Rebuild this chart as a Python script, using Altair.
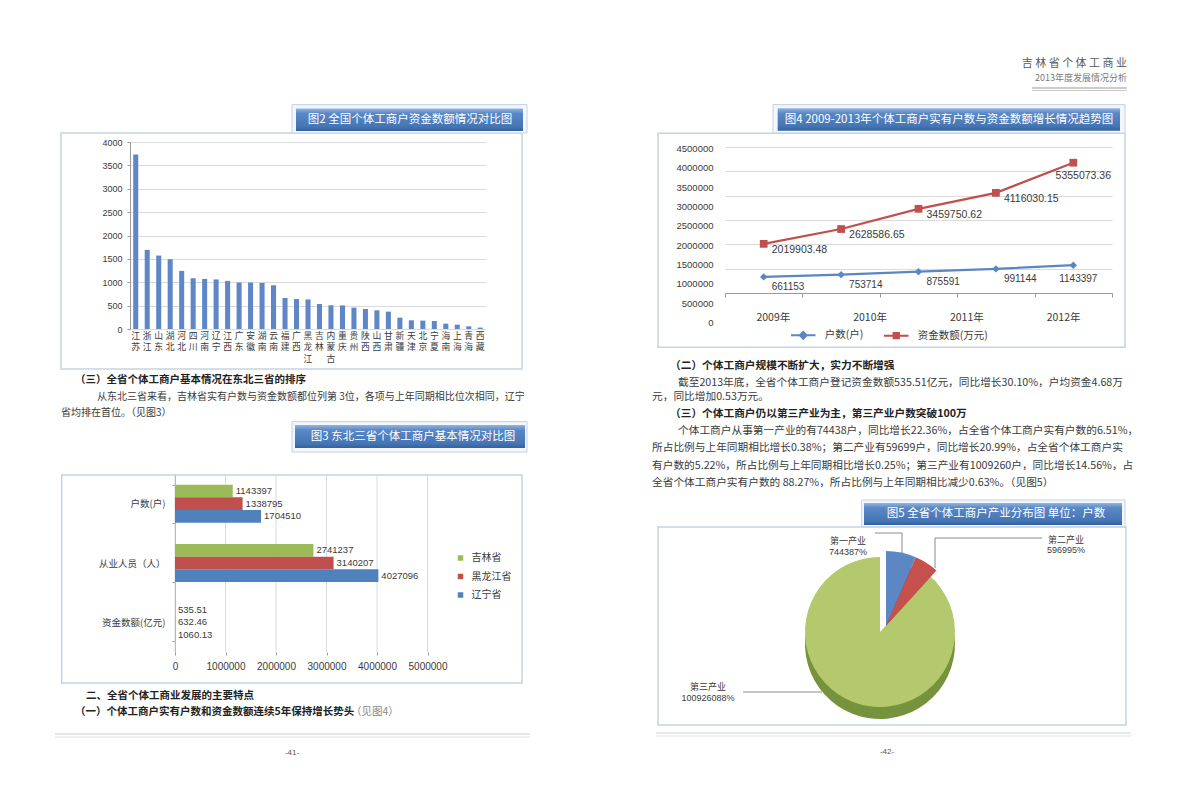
import altair as alt
import pandas as pd

CJK = "Noto Sans CJK SC"
NUM = "Liberation Sans, Noto Sans CJK SC"

# ---------------- data ----------------
provinces = ["江苏", "浙江", "山东", "湖北", "河北", "四川", "河南", "辽宁", "江西", "广东",
             "安徽", "湖南", "云南", "福建", "广西", "黑龙江", "吉林", "内蒙古", "重庆", "贵州",
             "陕西", "山西", "甘肃", "新疆", "天津", "北京", "宁夏", "海南", "上海", "青海", "西藏"]
capital_yi = [3730, 1693, 1571, 1493, 1243, 1086, 1071, 1060.13, 1029, 995,
              993, 986, 936, 664, 640, 632.46, 535.51, 507, 505, 457,
              429, 400, 371, 243, 186, 179, 171, 114, 93, 57, 29]
fig2_ticks = [0, 500, 1000, 1500, 2000, 2500, 3000, 3500, 4000]

ne_categories = ["户数(户)", "从业人员（人）", "资金数额(亿元)"]
ne_provinces = ["吉林省", "黑龙江省", "辽宁省"]
ne_households = [1143397, 1338795, 1704510]
ne_employees = [2741237, 3140207, 4027096]
ne_capital = [535.51, 632.46, 1060.13]
fig3_ticks = [0, 1000000, 2000000, 3000000, 4000000, 5000000]

years = ["2009", "2010", "2011", "2012", "2013"]
households = [661153, 753714, 875591, 991144, 1143397]
capital_wan = [2019903.48, 2628586.65, 3459750.62, 4116030.15, 5355073.36]
series_names = ["户数(户)", "资金数额(万元)"]
axis_year_labels = ["2009年", "2010年", "2011年", "2012年"]
axis_value_labels = [0, 500000, 1000000, 1500000, 2000000, 2500000, 3000000, 3500000, 4000000, 4500000]
fig4_grid = [0, 1000000, 2000000, 3000000, 4000000, 5000000, 6000000]

industries = ["第一产业", "第二产业", "第三产业"]
industry_counts = [74438, 59699, 1009260]
industry_pct = [7, 5, 88]

left_heading3 = "（三）全省个体工商户基本情况在东北三省的排序"
left_para = ["从东北三省来看，吉林省实有户数与资金数额都位列第 3位，各项与上年同期相比位次相同，辽宁",
             "省均排在首位。（见图3）"]
left_heading_b = "二、全省个体工商业发展的主要特点"
left_heading_1 = "（一）个体工商户实有户数和资金数额连续5年保持增长势头"
left_heading_1_ref = "（见图4）"
right_heading2 = "（二）个体工商户规模不断扩大，实力不断增强"
right_para2 = ["截至2013年底，全省个体工商户登记资金数额535.51亿元，同比增长30.10%，户均资金4.68万",
               "元，同比增加0.53万元。"]
right_heading3 = "（三）个体工商户仍以第三产业为主，第三产业户数突破100万"
right_para3 = ["个体工商户从事第一产业的有74438户，同比增长22.36%，占全省个体工商户实有户数的6.51%，",
               "所占比例与上年同期相比增长0.38%；第二产业有59699户，同比增长20.99%，占全省个体工商户实",
               "有户数的5.22%，所占比例与上年同期相比增长0.25%；第三产业有1009260户，同比增长14.56%，占",
               "全省个体工商户实有户数的 88.27%，所占比例与上年同期相比减少0.63%。（见图5）"]
header_title = "吉 林 省 个 体 工 商 业"
header_sub = "2013年度发展情况分析"
titles = ["图2  全国个体工商户资金数额情况对比图",
          "图3  东北三省个体工商户基本情况对比图",
          "图4  2009-2013年个体工商户实有户数与资金数额增长情况趋势图",
          "图5  全省个体工商户产业分布图 单位：户数"]
page_numbers = ["-41-", "-42-"]

# ---------------- styles ----------------
BLUE = "#4F81BD"
LBLUE = "#5b86c3"
RED = "#C0504D"
GREEN = "#9BBB59"
BAR2 = "#5f87c7"
TXT = "#3a3a3a"
BOXC = "#c5d3e2"
GRIDC = "#dadada"
AXC = "#9a9a9a"

ONE = pd.DataFrame({"_": [0]})


def txt(s, x, y, size=10.5, weight="normal", color=TXT, align="left", font=CJK, baseline="middle"):
    return alt.Chart(ONE).mark_text(text=s, align=align, baseline=baseline, fontSize=size,
                                    fontWeight=weight, color=color, font=font).encode(
        x=alt.value(x), y=alt.value(y))


def rule(x1, y1, x2, y2, color="#999999", width=1.0):
    return alt.Chart(ONE).mark_rule(color=color, strokeWidth=width).encode(
        x=alt.value(x1), y=alt.value(y1), x2=alt.value(x2), y2=alt.value(y2))


def rect(x1, y1, x2, y2, **kw):
    return alt.Chart(ONE).mark_rect(**kw).encode(
        x=alt.value(x1), x2=alt.value(x2), y=alt.value(y1), y2=alt.value(y2))


GRAD = alt.LinearGradient(gradient="linear", x1=0, y1=0, x2=0, y2=1, stops=[
    alt.GradientStop(color="#92b4df", offset=0),
    alt.GradientStop(color="#5a88c6", offset=0.22),
    alt.GradientStop(color="#4575b3", offset=0.8),
    alt.GradientStop(color="#33629f", offset=1)])


def banner(ox1, oy1, ox2, oy2, ix1, iy1, ix2, iy2, text, tx, ty):
    return [rect(ox1, oy1, ox2, oy2, fill="#f3f7fb", stroke="#c2d2e5", strokeWidth=1),
            rect(ix1, iy1, ix2, iy2, fill=GRAD),
            txt(text, tx, ty, size=11.5, color="white", align="center")]


def panel(x1, y1, x2, y2):
    return rect(x1, y1, x2, y2, fillOpacity=0, stroke=BOXC, strokeWidth=1.5)


def bg(w, h):
    return rect(0, 0, w, h, fill="white")


def leaf(w, h, *layers):
    return alt.layer(*layers).properties(width=w, height=h)


def row(*charts):
    return alt.hconcat(*charts, spacing=0, bounds="flush")


# ---------------- Fig 2 (view origin: X130, Y104) ----------------
df2 = pd.DataFrame({"province": provinces, "value": capital_yi})
df2["c1"] = [p[0] for p in provinces]
df2["c2"] = [p[1] if len(p) > 1 else "" for p in provinces]
df2["c3"] = [p[2] if len(p) > 2 else "" for p in provinces]
x2 = alt.X("province:N", sort=provinces, title=None,
           scale=alt.Scale(paddingInner=0.56, paddingOuter=0.28),
           axis=alt.Axis(labels=False, ticks=False, domain=False))
bars2 = alt.Chart(df2).mark_bar(color=BAR2).encode(
    x=x2,
    y=alt.Y("value:Q", title=None, scale=alt.Scale(domain=[0, 4000], range=[225, 38], nice=False),
            axis=alt.Axis(values=fig2_ticks, format="d", labelFontSize=9, labelColor=TXT,
                          labelFont=NUM, tickSize=3, tickColor=AXC, domainColor=AXC,
                          gridColor=GRIDC, labelPadding=5)))


def char_row(col, y):
    return alt.Chart(df2).mark_text(fontSize=8.8, font=CJK, color=TXT, baseline="middle").encode(
        x=x2, y=alt.value(y), text=f"{col}:N")


fig2 = leaf(356, 225,
            panel(-69, 29, 392, 265),
            *banner(162, 0.6, 397, 29, 166, 4.5, 393, 27, titles[0], 280, 16),
            bars2, char_row("c1", 231.5), char_row("c2", 243), char_row("c3", 254.5))

# ---------------- Fig 3 (view origin: X175, Y460) ----------------
rows3 = []
for cat, vals in zip(ne_categories, [ne_households, ne_employees, ne_capital]):
    for prov, v in zip(ne_provinces, vals):
        rows3.append({"category": cat, "province": prov, "value": v,
                      "label": f"{v:.2f}" if v < 10000 else f"{int(v)}"})
df3 = pd.DataFrame(rows3)
x3_axis = alt.Axis(values=fig3_ticks, format="d", domain=False, tickSize=3, tickColor=AXC,
                   labelPadding=6, grid=False, labelFontSize=10, labelFont=NUM,
                   labelColor=TXT, labelFlush=False)
x3_scale = alt.Scale(domain=[0, 5000000], nice=False)
base3 = alt.Chart(df3).encode(
    y=alt.Y("category:N", sort=ne_categories, title=None,
            scale=alt.Scale(range=[13, 191], paddingInner=0.36, paddingOuter=0.18),
            axis=alt.Axis(tickBand="extent", tickSize=3, labelPadding=7, labelFontSize=9.5,
                          labelFont=CJK, domainColor=AXC, tickColor=AXC, labelColor=TXT)),
    yOffset=alt.YOffset("province:N", sort=ne_provinces,
                        scale=alt.Scale(paddingInner=0, paddingOuter=0)),
    x=alt.X("value:Q", title=None, scale=x3_scale, axis=x3_axis))
grid3 = alt.Chart(pd.DataFrame({"tick": fig3_ticks})).mark_rule(color=GRIDC, strokeWidth=1).encode(
    x=alt.X("tick:Q", title=None, scale=x3_scale, axis=x3_axis),
    y=alt.value(13), y2=alt.value(191))
bars3 = base3.mark_bar().encode(
    color=alt.Color("province:N", sort=ne_provinces,
                    scale=alt.Scale(domain=ne_provinces, range=[GREEN, RED, BLUE]),
                    legend=alt.Legend(title=None, orient="none", legendX=447.5, legendY=545,
                                      symbolType="square", symbolSize=30, labelFontSize=10,
                                      labelFont=CJK, rowPadding=8.5, labelColor=TXT,
                                      symbolStrokeWidth=0, labelOffset=6)))
labels3 = base3.mark_text(align="left", dx=3, fontSize=9.5, font=NUM, color=TXT).encode(text="label:N")
fig3 = leaf(252.5, 191,
            panel(-113.3, 14, 347, 222),
            grid3, bars3, labels3)

# ---------------- Fig 4 (view origin: X725, Y104) ----------------
df4 = pd.DataFrame({
    "year": years * 2,
    "series": [series_names[0]] * 5 + [series_names[1]] * 5,
    "value": households + capital_wan,
    "label": [str(v) for v in households] + [f"{v:.2f}" for v in capital_wan]})
df4_axis = pd.DataFrame({"year_label": axis_year_labels, "tick": [0] * len(axis_year_labels)})

axis_layer = alt.Chart(df4_axis).mark_point(opacity=0).encode(
    x=alt.X("year_label:N", sort=axis_year_labels, title=None,
            scale=alt.Scale(type="band", domain=axis_year_labels, paddingInner=0, paddingOuter=0),
            axis=alt.Axis(orient="bottom", domain=False, ticks=False, tickSize=0, labelPadding=19,
                          labelFontSize=10.5, labelFont=CJK, labelColor=TXT, labelAngle=0,
                          grid=False)),
    y=alt.Y("tick:Q", title=None,
            scale=alt.Scale(domain=[0, 4500000], range=[218.7, 44.3], nice=False, zero=False),
            axis=alt.Axis(orient="left", values=axis_value_labels, format="d", domain=False,
                          ticks=False, tickSize=0, grid=False, labelPadding=12, labelFontSize=9.5,
                          labelFont=NUM, labelColor=TXT)))

base4 = alt.Chart(df4).encode(
    x=alt.X("year:N", sort=years, title=None, bandPosition=0.5,
            scale=alt.Scale(type="band", domain=years, paddingInner=0, paddingOuter=0),
            axis=alt.Axis(orient="bottom", labels=False, ticks=True, tickSize=4, tickBand="extent",
                          domainColor=AXC, tickColor=AXC, grid=False)),
    y=alt.Y("value:Q", title=None, scale=alt.Scale(domain=[0, 6000000], range=[189, 43], nice=False),
            axis=alt.Axis(orient="left", labels=False, ticks=False, domain=False, grid=True,
                          values=fig4_grid, gridColor=GRIDC)))
is_h = alt.datum.series == series_names[0]
is_c = alt.datum.series == series_names[1]
is_last = alt.datum.year == years[-1]
not_last = alt.datum.year != years[-1]
line_h = base4.transform_filter(is_h).mark_line(strokeWidth=2.2, color=LBLUE)
line_c = base4.transform_filter(is_c).mark_line(strokeWidth=2.2, color=RED)
pts_h = base4.transform_filter(is_h).mark_point(shape="diamond", filled=True, size=55,
                                                 color=LBLUE, opacity=1)
pts_c = base4.transform_filter(is_c).mark_square(size=60, color=RED, opacity=1)
lbl_h = base4.transform_filter(is_h).transform_filter(not_last).mark_text(
    align="left", dx=8, dy=10, fontSize=10, font=NUM, color=TXT).encode(text="label:N")
lbl_h_last = base4.transform_filter(is_h).transform_filter(is_last).mark_text(
    align="center", dx=5, dy=14, fontSize=10, font=NUM, color=TXT).encode(text="label:N")
lbl_c = base4.transform_filter(is_c).transform_filter(not_last).mark_text(
    align="left", dx=8, dy=6, fontSize=10.5, font=NUM, color=TXT).encode(text="label:N")
lbl_c_last = base4.transform_filter(is_c).transform_filter(is_last).mark_text(
    align="center", dx=10, dy=13, fontSize=10.5, font=NUM, color=TXT).encode(text="label:N")
DIAMOND_PATH = "M-1,0L1,0M0,-0.28L0.28,0L0,0.28L-0.28,0Z"
SQUARE_PATH = "M-1,0L1,0M-0.22,-0.22L0.22,-0.22L0.22,0.22L-0.22,0.22Z"
leg4 = alt.Legend(title=None, orient="none", legendX=781.75, legendY=313.75, direction="horizontal",
                  symbolSize=600, symbolStrokeWidth=2, labelFontSize=10.5, labelFont=CJK,
                  labelColor=TXT, columnPadding=16, labelOffset=8)
legend4 = base4.transform_filter("false").mark_point(strokeWidth=2, opacity=1).encode(
    fill=alt.Fill("series:N", scale=alt.Scale(domain=series_names, range=[LBLUE, RED]), legend=leg4),
    stroke=alt.Stroke("series:N", scale=alt.Scale(domain=series_names, range=[LBLUE, RED]), legend=leg4),
    shape=alt.Shape("series:N", scale=alt.Scale(domain=series_names, range=[DIAMOND_PATH, SQUARE_PATH]),
                    legend=leg4))
data_group = alt.layer(line_h, line_c, pts_h, pts_c, lbl_h, lbl_h_last, lbl_c, lbl_c_last, legend4)
fig4 = alt.layer(
    panel(-67, 29.3, 400, 243.3),
    *banner(48, 0.6, 400, 29, 52.7, 4.3, 395, 26.7, titles[2], 224, 15.5),
    axis_layer, data_group
).resolve_scale(x="independent", y="independent").properties(width=387, height=189)

# ---------------- Fig 5 (view origin: X590, Y497) ----------------
df5 = pd.DataFrame({"industry": industries, "count": industry_counts})
df5["end"] = df5["count"].cumsum()
df5["start"] = df5["end"] - df5["count"]
df5["label"] = [f"{n}\n{c}{p}%" for n, c, p in zip(industries, industry_counts, industry_pct)]
total = int(sum(industry_counts))


def slice_arc(name, color, cx, cy):
    return alt.Chart(df5).transform_filter(alt.datum.industry == name).mark_arc(
        radius=75, color=color).encode(
        theta=alt.Theta("start:Q", scale=alt.Scale(domain=[0, total])),
        theta2="end:Q", x=alt.value(cx), y=alt.value(cy))


def slice_label(name, x, y):
    return alt.Chart(df5).transform_filter(alt.datum.industry == name).mark_text(
        align="center", baseline="top", fontSize=9, lineHeight=10.5, lineBreak="\n",
        font=NUM, color=TXT).encode(text="label:N", x=alt.value(x), y=alt.value(y))


LEAD = "#8a8a8a"
fig5 = leaf(590, 300,
            bg(590, 300),
            *banner(271.7, 3, 535, 30, 274, 6, 532, 28, titles[3], 406, 17),
            panel(68, 30, 536, 228),
            slice_arc("第三产业", "#76923C", 290, 147),
            slice_arc("第一产业", "#385D8A", 296, 141),
            slice_arc("第二产业", "#943634", 296, 141),
            slice_arc("第三产业", "#b4c96e", 290, 135),
            slice_arc("第一产业", "#5b87c5", 296, 129),
            slice_arc("第二产业", "#c5504c", 296, 129),
            slice_label("第一产业", 258, 40),
            slice_label("第二产业", 476, 38.5),
            slice_label("第三产业", 118, 186),
            rule(285, 36, 312, 36, LEAD), rule(312, 36, 312, 56, LEAD),
            rule(345, 41, 452, 41, LEAD), rule(345, 41, 345, 71, LEAD),
            rule(153, 195, 232, 195, LEAD),
            rule(66, 236, 541, 236, "#cfcfcf", 1.2), rule(66, 239, 541, 239, "#e2e2e2", 1),
            txt(page_numbers[1], 297, 255, size=8, color="#555555", align="center", font=NUM))

# ---------------- left page rows (X from 8) ----------------
LA = leaf(582, 96, bg(582, 96))
LB = row(leaf(122, 268, bg(582, 268)), fig2)
LC = leaf(582, 83.5, bg(582, 83.5),
          txt(left_heading3, 67, 8, size=10.5, weight="bold", color="#222222"),
          txt(left_para[0], 89, 25, size=10),
          txt(left_para[1], 53, 41, size=10),
          *banner(284, 49.6, 519, 80, 287, 53, 517, 76, titles[1], 405, 64.5))
LD = row(leaf(167, 224, bg(582, 224)), fig3)
LE = leaf(582, 113, bg(582, 113),
          txt(left_heading_b, 78, 11, size=10.5, weight="bold", color="#222222"),
          txt(left_heading_1, 67, 27, size=10.5, weight="bold", color="#222222"),
          txt(left_heading_1_ref, 343, 27, size=10.5, color="#888888"),
          rule(47, 49, 522, 49, "#cfcfcf", 1.2), rule(47, 52, 522, 52, "#e2e2e2", 1),
          txt(page_numbers[0], 284, 68, size=8, color="#555555", align="center", font=NUM))

# ---------------- right page rows (X from 590) ----------------
RA = leaf(590, 96, bg(590, 96),
          txt(header_title, 537, 56, size=11, color="#5a5a5a", align="right"),
          txt(header_sub, 537, 70, size=9, color="#7a7a7a", align="right"),
          rule(442, 80, 537, 80, "#9a9a9a", 1), rule(442, 82.5, 537, 82.5, "#c8c8c8", 1))
RB = row(leaf(135, 250, bg(590, 250)), fig4)
RC = leaf(590, 143, bg(590, 143),
          txt(right_heading2, 80, 11.5, size=10.7, weight="bold", color="#222222"),
          txt(right_para2[0], 88, 29, size=10.7),
          txt(right_para2[1], 62, 42.5, size=10.7),
          txt(right_heading3, 80, 59.5, size=10.7, weight="bold", color="#222222"),
          txt(right_para3[0], 88, 76.5, size=10.7),
          txt(right_para3[1], 62, 94, size=10.7),
          txt(right_para3[2], 62, 111.5, size=10.7),
          txt(right_para3[3], 62, 128.5, size=10.7))

left = alt.vconcat(LA, LB, LC, LD, LE, spacing=0)
right = alt.vconcat(RA, RB, RC, fig5, spacing=0)

chart = alt.hconcat(left, right, spacing=0).properties(
    padding=0, background="white").configure_view(strokeWidth=0)

chart.save("out.html", embed_options={"renderer": "svg", "actions": False})
